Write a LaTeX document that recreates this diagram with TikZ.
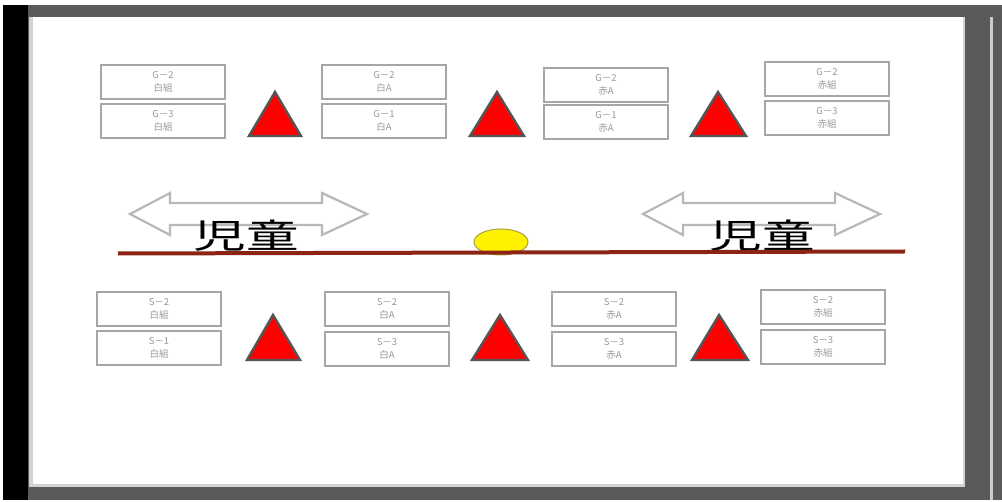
\documentclass[tikz,border=0pt]{standalone}
\usepackage{fontspec}
\newfontfamily\jp{Noto Sans CJK JP}
\usetikzlibrary{shapes.geometric}
\definecolor{framegray}{HTML}{5A5A5A}
\definecolor{boxgray}{HTML}{A6A6A6}
\definecolor{trigray}{HTML}{555555}
\definecolor{linebrown}{HTML}{8B2414}
\definecolor{eggolive}{HTML}{A8A040}
\tikzset{
  teambox/.style={draw=boxgray, line width=2.6pt, fill=white, rectangle,
    minimum width=124pt, minimum height=34pt, inner sep=0pt, align=center,
    font=\jp\fontsize{9.5}{12.5}\selectfont, text=gray!80},
  flag/.style={draw=trigray, fill=red, line width=2.4pt, line join=miter},
  dblarrow/.style={draw=boxgray!80, fill=white, line width=2.2pt, line join=miter},
  kids/.style={font=\jp\fontsize{34}{34}\selectfont, inner sep=0pt, text=black,
    xscale=1.55, transform shape}
}
\begin{document}
\begin{tikzpicture}[x=1pt,y=-1pt]
\useasboundingbox (0,0) rectangle (1002,502);
\fill[white] (0,0) rectangle (1002,502);
% frame
\fill[framegray] (3,5) rectangle (1002,500);
\fill[gray!40] (990,17) rectangle (993,500);
\fill[gray!35] (29,17) rectangle (965,487);
\fill[white] (33,17) rectangle (963,484);
\fill[black] (3,5) rectangle (28,500);

% top row boxes
\node[teambox] (t1a) at (163,82) {G－2\\白組};
\node[teambox] (t1b) at (163,121) {G－3\\白組};
\node[teambox] (t2a) at (384,82) {G－2\\白A};
\node[teambox] (t2b) at (384,121) {G－1\\白A};
\node[teambox] (t3a) at (606,85) {G－2\\赤A};
\node[teambox] (t3b) at (606,122) {G－1\\赤A};
\node[teambox] (t4a) at (827,79) {G－2\\赤組};
\node[teambox] (t4b) at (827,118) {G－3\\赤組};

% top flags
\draw[flag] (249,136) -- (275,92) -- (301,136) -- cycle;
\draw[flag] (470,136) -- (497,92) -- (524,136) -- cycle;
\draw[flag] (691,136) -- (718,92) -- (746,136) -- cycle;

% bottom row boxes
\node[teambox] (b1a) at (159,309) {S－2\\白組};
\node[teambox] (b1b) at (159,348) {S－1\\白組};
\node[teambox] (b2a) at (387,309) {S－2\\白A};
\node[teambox] (b2b) at (387,349) {S－3\\白A};
\node[teambox] (b3a) at (614,309) {S－2\\赤A};
\node[teambox] (b3b) at (614,349) {S－3\\赤A};
\node[teambox] (b4a) at (823,307) {S－2\\赤組};
\node[teambox] (b4b) at (823,347) {S－3\\赤組};

% bottom flags
\draw[flag] (247,360) -- (273,315) -- (300,360) -- cycle;
\draw[flag] (472,360) -- (500,315) -- (528,360) -- cycle;
\draw[flag] (692,360) -- (719,315) -- (748,360) -- cycle;

% double arrows
\draw[dblarrow] (130,214) -- (170,193) -- (170,203) -- (322,203) -- (322,193) -- (367,214)
  -- (322,235) -- (322,225) -- (170,225) -- (170,235) -- cycle;
\draw[dblarrow] (643,214) -- (683,193) -- (683,203) -- (835,203) -- (835,193) -- (880,214)
  -- (835,235) -- (835,225) -- (683,225) -- (683,235) -- cycle;

% kids labels
\node[kids] (k1) at (246,236) {児童};
\node[kids] (k2) at (762,236) {児童};

% egg and line
\fill[yellow, draw=eggolive, line width=1pt] (501,242) ellipse [x radius=27pt, y radius=13pt];
\draw[linebrown, line width=4pt] (118,253.5) -- (905,251.5);
\end{tikzpicture}
\end{document}
